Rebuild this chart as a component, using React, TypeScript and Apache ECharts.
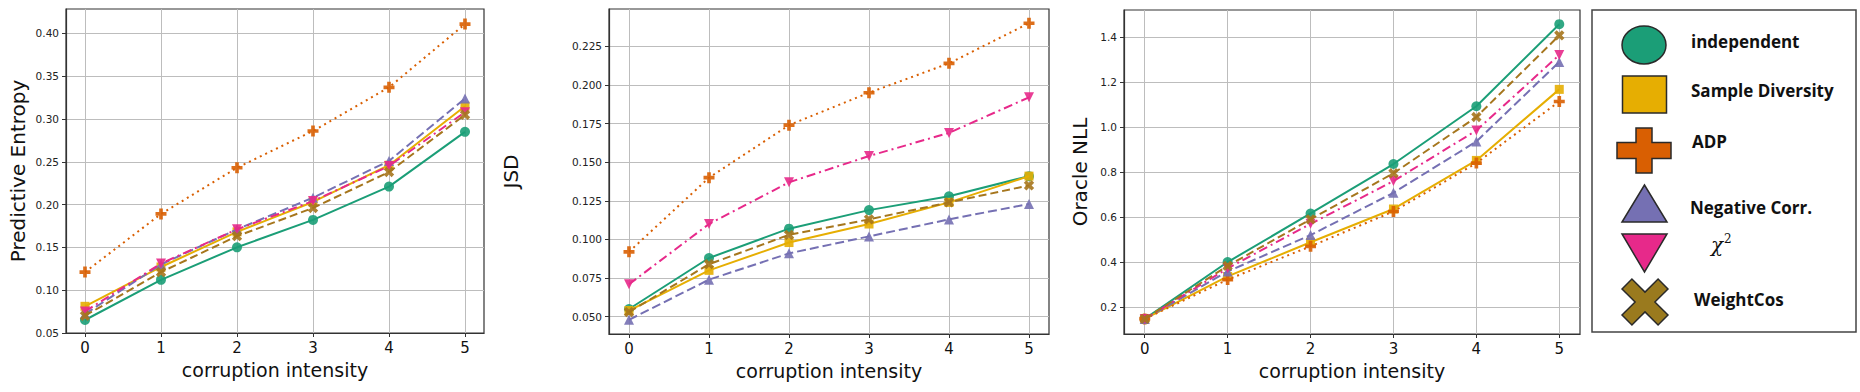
import React, { useEffect, useRef } from "react";
import * as echarts from "echarts";

// ---------- data ----------
const intensity = [0, 1, 2, 3, 4, 5];
const seriesNames = ["independent", "Sample Diversity", "ADP", "Negative Corr.", "χ²", "WeightCos"];

// Predictive Entropy
const entIndependent = [0.065, 0.112, 0.150, 0.182, 0.221, 0.285];
const entSampleDiv = [0.081, 0.127, 0.168, 0.203, 0.246, 0.315];
const entADP = [0.121, 0.189, 0.243, 0.286, 0.337, 0.411];
const entNegCorr = [0.072, 0.130, 0.171, 0.208, 0.251, 0.324];
const entChi2 = [0.075, 0.131, 0.171, 0.204, 0.245, 0.308];
const entWeightCos = [0.070, 0.121, 0.163, 0.196, 0.238, 0.305];

// JSD
const jsdIndependent = [0.055, 0.088, 0.107, 0.119, 0.128, 0.141];
const jsdSampleDiv = [0.054, 0.080, 0.098, 0.110, 0.124, 0.141];
const jsdADP = [0.092, 0.140, 0.174, 0.195, 0.214, 0.240];
const jsdNegCorr = [0.048, 0.074, 0.091, 0.102, 0.113, 0.123];
const jsdChi2 = [0.071, 0.110, 0.137, 0.154, 0.169, 0.192];
const jsdWeightCos = [0.053, 0.084, 0.103, 0.113, 0.124, 0.135];

// Oracle NLL
const nllIndependent = [0.147, 0.400, 0.616, 0.836, 1.093, 1.458];
const nllSampleDiv = [0.147, 0.336, 0.488, 0.636, 0.852, 1.168];
const nllADP = [0.147, 0.322, 0.470, 0.625, 0.840, 1.114];
const nllNegCorr = [0.147, 0.358, 0.520, 0.708, 0.936, 1.290];
const nllChi2 = [0.147, 0.372, 0.570, 0.760, 0.985, 1.321];
const nllWeightCos = [0.147, 0.383, 0.590, 0.795, 1.045, 1.408];

// tick labels
const entTicks = [0.05, 0.10, 0.15, 0.20, 0.25, 0.30, 0.35, 0.40];
const jsdTicks = [0.05, 0.075, 0.10, 0.125, 0.15, 0.175, 0.20, 0.225];
const nllTicks = [0.2, 0.4, 0.6, 0.8, 1.0, 1.2, 1.4];

const yTitles = ["Predictive Entropy", "JSD", "Oracle NLL"];
const xTitle = "corruption intensity";

// ---------- styles ----------
const colors = ["#1b9e77", "#e6ae02", "#d95f02", "#7570b3", "#e7298a", "#a6761d"];
const PLUS = "path://M-1,-3L1,-3L1,-1L3,-1L3,1L1,1L1,3L-1,3L-1,1L-3,1L-3,-1L-1,-1Z";
const styles = [
  { symbol: "circle", size: 10, rotate: 0, line: "solid" as any },
  { symbol: "rect", size: 9, rotate: 0, line: "solid" as any },
  { symbol: PLUS, size: 11, rotate: 0, line: [2, 4] as any },
  { symbol: "triangle", size: 10, rotate: 0, line: [9, 4] as any },
  { symbol: "triangle", size: 10, rotate: 180, line: [9, 4, 2, 4] as any },
  { symbol: PLUS, size: 11, rotate: 45, line: [8, 4] as any },
];

const FONT = "DejaVu Sans";

export default function App() {
  const ref = useRef<HTMLDivElement>(null);
  useEffect(() => {
    document.body.style.margin = "0";
    if (!ref.current) return;
    const chart = echarts.init(ref.current, undefined, { renderer: "svg" });

    const grids = [
      { left: 66, top: 9, width: 418, height: 324 },
      { left: 609, top: 9, width: 440, height: 325 },
      { left: 1124, top: 10, width: 456, height: 324 },
    ];
    const yCfg = [
      { min: 0.0498, max: 0.4286, ticks: entTicks, dec: 2, gap: 38 },
      { min: 0.0388, max: 0.2492, ticks: jsdTicks, dec: 3, gap: 88 },
      { min: 0.08, max: 1.521, ticks: nllTicks, dec: 1, gap: 34 },
    ];
    const panels = [
      [entIndependent, entSampleDiv, entADP, entNegCorr, entChi2, entWeightCos],
      [jsdIndependent, jsdSampleDiv, jsdADP, jsdNegCorr, jsdChi2, jsdWeightCos],
      [nllIndependent, nllSampleDiv, nllADP, nllNegCorr, nllChi2, nllWeightCos],
    ];

    const axisLine = { show: true, onZero: false, lineStyle: { color: "#333", width: 1.2 } };
    const gridLine = { show: true, lineStyle: { color: "#bdbdbd", width: 1 } };
    const xAxis = grids.map((_, i) => ({
      type: "value",
      gridIndex: i,
      min: -0.25,
      max: 5.25,
      name: xTitle,
      nameLocation: "middle",
      nameGap: 27,
      nameTextStyle: { fontSize: 19, fontFamily: FONT, color: "#111" },
      axisLine,
      axisTick: { show: true, length: 4, customValues: intensity, lineStyle: { color: "#333" } },
      axisLabel: { customValues: intensity, fontSize: 15, fontFamily: FONT, color: "#111", margin: 7, formatter: (v: number) => String(Math.round(v)) },
      splitLine: gridLine,
    }));
    const yAxis = grids.map((_, i) => ({
      type: "value",
      gridIndex: i,
      min: yCfg[i].min,
      max: yCfg[i].max,
      name: yTitles[i],
      nameLocation: "middle",
      nameGap: yCfg[i].gap,
      nameTextStyle: { fontSize: 20, fontFamily: FONT, color: "#111" },
      axisLine,
      axisTick: { show: true, length: 4, customValues: yCfg[i].ticks, lineStyle: { color: "#333" } },
      axisLabel: { customValues: yCfg[i].ticks, fontSize: 10.5, fontFamily: FONT, color: "#222", margin: 7, formatter: (v: number) => v.toFixed(yCfg[i].dec) },
      splitLine: gridLine,
    }));

    const series: any[] = [];
    panels.forEach((vals, gi) => {
      vals.forEach((arr, si) => {
        const st = styles[si];
        series.push({
          type: "line",
          name: seriesNames[si],
          xAxisIndex: gi,
          yAxisIndex: gi,
          data: intensity.map((x, k) => [x, arr[k]]),
          symbol: st.symbol,
          symbolSize: st.size,
          symbolRotate: st.rotate,
          showSymbol: true,
          lineStyle: { color: colors[si], width: 2, type: st.line },
          itemStyle: { color: colors[si], opacity: 0.9 },
          z: 2 + si,
        });
      });
    });

    // legend drawn as graphic
    const stroke = { stroke: "#2a2a2a", lineWidth: 1.5 };
    const a = 7, L = 25.5;
    const xPts = [[-a, -L], [a, -L], [a, -a], [L, -a], [L, a], [a, a], [a, L], [-a, L], [-a, a], [-L, a], [-L, -a], [-a, -a]];
    const cx = 1644;
    const graphic: any[] = [
      { type: "rect", shape: { x: 1592, y: 10, width: 264, height: 322 }, style: { fill: "#fff", stroke: "#444", lineWidth: 1.5 }, z: 10 },
      { type: "ellipse", shape: { cx, cy: 45, rx: 22, ry: 19 }, style: { fill: colors[0], ...stroke }, z: 11 },
      { type: "rect", shape: { x: 1622.5, y: 76, width: 44, height: 37 }, style: { fill: colors[1], ...stroke }, z: 11 },
      {
        type: "polygon",
        shape: { points: [[cx - 8, 128], [cx + 8, 128], [cx + 8, 142.5], [cx + 27, 142.5], [cx + 27, 158.5], [cx + 8, 158.5], [cx + 8, 173], [cx - 8, 173], [cx - 8, 158.5], [cx - 27, 158.5], [cx - 27, 142.5], [cx - 8, 142.5]] },
        style: { fill: colors[2], ...stroke }, z: 11,
      },
      { type: "polygon", shape: { points: [[cx + 0.5, 185], [cx - 22, 222], [cx + 23, 222]] }, style: { fill: colors[3], ...stroke }, z: 11 },
      { type: "polygon", shape: { points: [[cx - 22, 234], [cx + 23, 234], [cx + 0.5, 272]] }, style: { fill: colors[4], ...stroke }, z: 11 },
      { type: "polygon", x: 1645, y: 302, rotation: Math.PI / 4, shape: { points: xPts }, style: { fill: "#9a7a1e", ...stroke }, z: 11 },
    ];
    const textPos = [
      [1691, 41], [1691, 90], [1692, 141], [1690, 207], [1711, 245], [1694, 299],
    ];
    seriesNames.forEach((n, i) => {
      if (i === 4) {
        graphic.push({
          type: "text", x: textPos[i][0], y: textPos[i][1], z: 12,
          style: {
            text: "{c|χ}{s|2}",
            verticalAlign: "middle",
            rich: {
              c: { fontFamily: "DejaVu Serif", fontStyle: "italic", fontSize: 20, fill: "#111" },
              s: { fontFamily: "DejaVu Serif", fontSize: 12, fill: "#111", verticalAlign: "top", padding: [0, 0, 12, 1] },
            },
          },
        });
      } else {
        graphic.push({
          type: "text", x: textPos[i][0], y: textPos[i][1], z: 12,
          style: { text: n, font: 'bold 17px "Open Sans"', fill: "#111", verticalAlign: "middle" },
        });
      }
    });

    chart.setOption({
      animation: false,
      backgroundColor: "#fff",
      grid: grids.map((g) => ({ ...g, show: true, borderColor: "#333", borderWidth: 1.2, backgroundColor: "transparent" })),
      xAxis,
      yAxis,
      series,
      graphic,
    });
    return () => chart.dispose();
  }, []);
  return <div ref={ref} style={{ width: 1860, height: 392 }} />;
}
